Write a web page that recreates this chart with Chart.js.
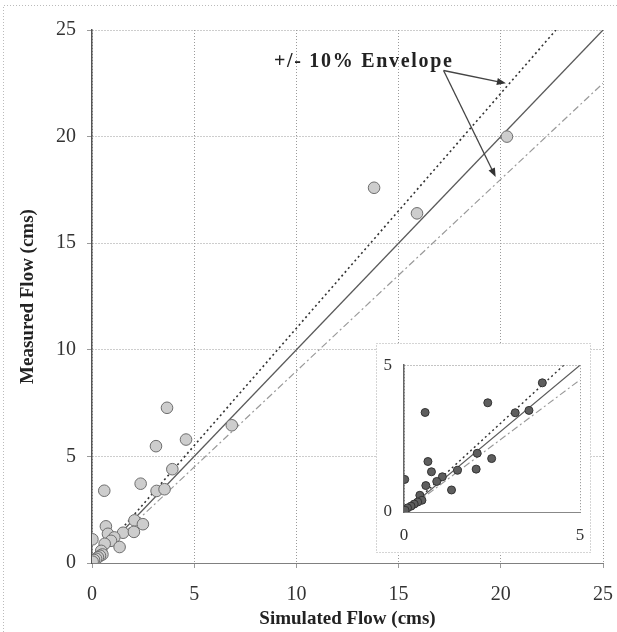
<!DOCTYPE html>
<html>
<head>
<meta charset="utf-8">
<script src="https://cdn.jsdelivr.net/npm/chart.js@4.4.1/dist/chart.umd.min.js"></script>
<style>
  html, body { margin: 0; padding: 0; background: #fff; }
  #wrap { position: relative; width: 617px; height: 632px; }
  #inset { position: absolute; left: 376px; top: 343px; }
</style>
</head>
<body>
<div id="wrap">
  <canvas id="mainChart" width="617" height="632"></canvas>
  <canvas id="inset" width="215" height="210"></canvas>
</div>
<script>
// Simulated vs measured flow (cms)
const simFlow  = [20.3, 13.8, 15.9, 6.84, 3.67, 4.60, 3.13, 3.93, 2.38, 3.16, 3.55, 0.60, 2.08, 2.49, 0.68,
                  0.78, 1.52, 2.05, 1.09, 0.93, 0.02, 0.62, 1.35, 0.45, 0.51, 0.39, 0.29, 0.20, 0.10, 0.03];
const measFlow = [20.0, 17.6, 16.4, 6.46, 7.28, 5.79, 5.48, 4.40, 3.72, 3.38, 3.46, 3.39, 2.00, 1.82, 1.72,
                  1.37, 1.42, 1.46, 1.20, 1.04, 1.11, 0.90, 0.75, 0.57, 0.40, 0.34, 0.27, 0.20, 0.14, 0.06];

// 1:1 line and the +/- 10% envelope
const refX = [0, 25],   refY = [0, 25];
const upperX = [0, 22.7], upperY = [0, 25];
const lowerX = [0, 25],   lowerY = [0, 22.5];

const mainTicks = [0, 5, 10, 15, 20, 25];
const insetTicks = [0, 5];

// annotation (data units)
const envLabel = '+/- 10% Envelope';
const labelPos = { x: 8.9, y: 23.5 };
const arrowTail = { x: 17.2, y: 23.1 };
const arrowTips = [{ x: 20.25, y: 22.5 }, { x: 19.75, y: 18.1 }];

const pts = simFlow.map((x, i) => ({ x: x, y: measFlow[i] }));
const toXY = (xs, ys) => xs.map((x, i) => ({ x: x, y: ys[i] }));

const serif = 'Liberation Serif';

function lineSets(w) {
    return [
        { data: toXY(refX, refY), showLine: true, pointRadius: 0, borderColor: '#5a5a5a', borderWidth: 1.3 * w, order: 2 },
        { data: toXY(upperX, upperY), showLine: true, pointRadius: 0, borderColor: '#333', borderWidth: 1.6 * w, borderDash: [2, 3], order: 3 },
        { data: toXY(lowerX, lowerY), showLine: true, pointRadius: 0, borderColor: '#9a9a9a', borderWidth: 1.2 * w, borderDash: [7, 3, 2, 3], order: 4 }
    ];
}

// white page with the faint scanned frame
const pageFrame = {
    id: 'pageFrame',
    beforeDraw(chart) {
        const c = chart.ctx;
        c.save();
        c.fillStyle = '#fff';
        c.fillRect(0, 0, chart.width, chart.height);
        c.strokeStyle = '#bbb';
        c.lineWidth = 1;
        c.setLineDash([1, 2]);
        c.beginPath();
        c.moveTo(3.5, chart.height);
        c.lineTo(3.5, 5.5);
        c.lineTo(chart.width, 5.5);
        c.stroke();
        c.restore();
    }
};

function arrow(c, x1, y1, x2, y2) {
    const a = Math.atan2(y2 - y1, x2 - x1);
    c.beginPath();
    c.moveTo(x1, y1);
    c.lineTo(x2 - 6 * Math.cos(a), y2 - 6 * Math.sin(a));
    c.stroke();
    c.beginPath();
    c.moveTo(x2, y2);
    c.lineTo(x2 - 9 * Math.cos(a) + 3.5 * Math.sin(a), y2 - 9 * Math.sin(a) - 3.5 * Math.cos(a));
    c.lineTo(x2 - 9 * Math.cos(a) - 3.5 * Math.sin(a), y2 - 9 * Math.sin(a) + 3.5 * Math.cos(a));
    c.closePath();
    c.fill();
}

const envelopeNote = {
    id: 'envelopeNote',
    afterDatasetsDraw(chart) {
        const c = chart.ctx, sx = chart.scales.x, sy = chart.scales.y;
        c.save();
        c.fillStyle = '#222';
        c.font = 'bold 20px ' + serif;
        c.letterSpacing = '1.7px';
        c.textBaseline = 'middle';
        c.textAlign = 'left';
        c.fillText(envLabel, sx.getPixelForValue(labelPos.x), sy.getPixelForValue(labelPos.y));
        c.letterSpacing = '0px';
        c.strokeStyle = '#444';
        c.fillStyle = '#333';
        c.lineWidth = 1.3;
        const tx = sx.getPixelForValue(arrowTail.x), ty = sy.getPixelForValue(arrowTail.y);
        arrowTips.forEach(p => arrow(c, tx, ty, sx.getPixelForValue(p.x), sy.getPixelForValue(p.y)));
        c.restore();
    }
};

new Chart(document.getElementById('mainChart'), {
    type: 'scatter',
    data: {
        datasets: [
            { data: pts, pointRadius: 5.8, pointBackgroundColor: '#cdcdcd', pointBorderColor: '#6e6e6e', pointBorderWidth: 1, order: 1 }
        ].concat(lineSets(1))
    },
    options: {
        responsive: false,
        animation: false,
        layout: { padding: { top: 30, right: 14, left: 0, bottom: 0 } },
        plugins: { legend: { display: false }, tooltip: { enabled: false } },
        scales: {
            x: {
                type: 'linear', min: 0, max: 25,
                afterBuildTicks: s => { s.ticks = mainTicks.map(v => ({ value: v })); },
                afterFit: s => { s.height = 69; s.paddingRight = 10; s.paddingLeft = 0; },
                ticks: { font: { family: serif, size: 20 }, color: '#333', padding: 15 },
                grid: { color: '#9a9a9a', lineWidth: 1, tickLength: 5 },
                border: { color: '#808080', width: 1, dash: [1, 2] },
                title: { display: true, text: 'Simulated Flow (cms)', font: { family: serif, size: 19, weight: 'bold' }, color: '#222', padding: { top: 0, bottom: 2 } }
            },
            y: {
                type: 'linear', min: 0, max: 25,
                afterBuildTicks: s => { s.ticks = mainTicks.map(v => ({ value: v })); },
                afterFit: s => { s.width = 92; },
                ticks: { font: { family: serif, size: 20 }, color: '#333', padding: 11 },
                grid: { color: '#9a9a9a', lineWidth: 1, tickLength: 5 },
                border: { color: '#555', width: 1.5, dash: [1, 2] },
                title: { display: true, text: 'Measured Flow (cms)', font: { family: serif, size: 19, weight: 'bold' }, color: '#222', padding: { top: 17, bottom: 0 } }
            }
        }
    },
    plugins: [pageFrame, envelopeNote]
});

// inset: zoom on 0-5 cms
const insetFrame = {
    id: 'insetFrame',
    beforeDraw(chart) {
        const c = chart.ctx;
        c.save();
        c.fillStyle = '#fff';
        c.fillRect(0, 0, chart.width, chart.height);
        c.strokeStyle = '#aaa';
        c.lineWidth = 1;
        c.setLineDash([1, 2]);
        c.strokeRect(0.5, 0.5, chart.width - 1, chart.height - 1);
        c.restore();
    }
};

new Chart(document.getElementById('inset'), {
    type: 'scatter',
    data: {
        datasets: [
            { data: pts, pointRadius: 4, pointBackgroundColor: '#5e5e5e', pointBorderColor: '#333', pointBorderWidth: 1, order: 1 }
        ].concat(lineSets(0.9))
    },
    options: {
        responsive: false,
        animation: false,
        layout: { padding: { top: 18, right: 11, left: 0, bottom: 0 } },
        plugins: { legend: { display: false }, tooltip: { enabled: false } },
        scales: {
            x: {
                type: 'linear', min: 0, max: 5,
                afterBuildTicks: s => { s.ticks = insetTicks.map(v => ({ value: v })); },
                afterFit: s => { s.height = 41; s.paddingRight = 4; s.paddingLeft = 0; },
                ticks: { font: { family: serif, size: 17 }, color: '#333', padding: 13 },
                grid: { color: '#888', drawTicks: false },
                border: { color: '#888', width: 1, dash: [1, 2] }
            },
            y: {
                type: 'linear', min: 0, max: 5,
                afterBuildTicks: s => { s.ticks = insetTicks.map(v => ({ value: v })); },
                afterFit: s => { s.width = 28; },
                ticks: { font: { family: serif, size: 17 }, color: '#333', padding: 12 },
                grid: { color: '#888', drawTicks: false },
                border: { color: '#666', width: 1.5, dash: [1, 2] }
            }
        }
    },
    plugins: [insetFrame]
});
</script>
</body>
</html>
